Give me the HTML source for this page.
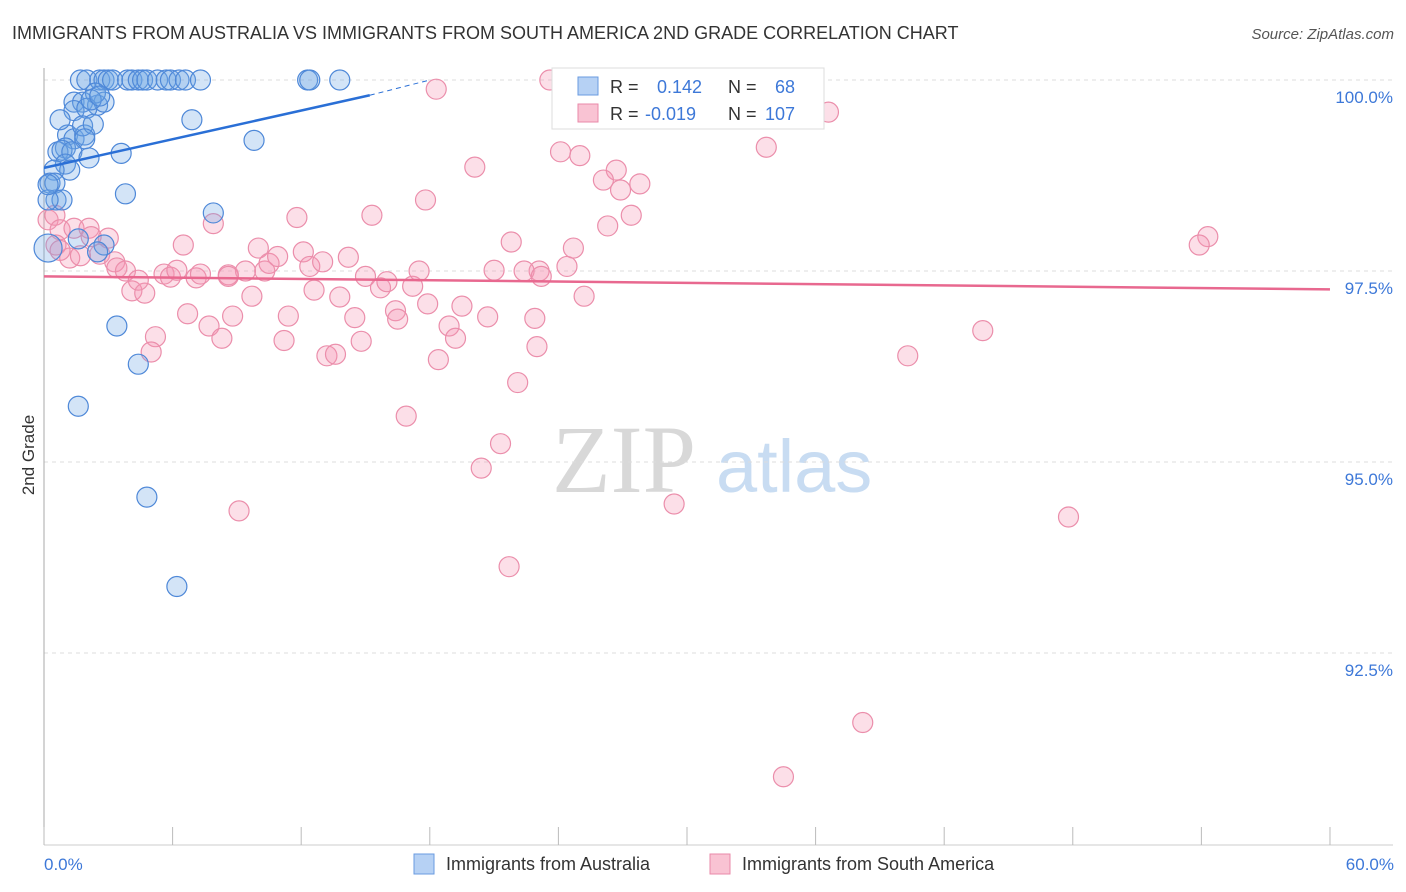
<!DOCTYPE html>
<html><head><meta charset="utf-8"><style>
body{margin:0;background:#fff;font-family:"Liberation Sans",sans-serif}
svg{display:block}
</style></head><body>
<svg id="chart" width="1406" height="892">
<text x="12" y="39" font-size="18" fill="#333">IMMIGRANTS FROM AUSTRALIA VS IMMIGRANTS FROM SOUTH AMERICA 2ND GRADE CORRELATION CHART</text>
<text x="1394" y="39" font-size="15" fill="#555" font-style="italic" text-anchor="end">Source: ZipAtlas.com</text>
<g>
<text x="552" y="492" font-size="96" font-family="Liberation Serif,serif" fill="#d8d8d8">ZIP</text>
<text x="716" y="492" font-size="74" fill="#c8dcf2">atlas</text>
</g>
<g id="grid"></g>
<g id="axes"></g>
<g id="pts"></g>
<g id="lines"></g>
<text transform="translate(34,455) rotate(-90)" font-size="17" fill="#333" text-anchor="middle">2nd Grade</text>
<text x="44" y="870" font-size="17" fill="#3d78d8">0.0%</text>
<text x="1394" y="870" font-size="17" fill="#3d78d8" text-anchor="end">60.0%</text>
<g>
<rect x="552" y="68" width="272" height="61" fill="#fff" stroke="#ddd"/>
<rect x="578" y="77" width="20" height="18" fill="#b6d1f4" stroke="#6a9be0"/>
<rect x="578" y="104" width="20" height="18" fill="#f9c3d3" stroke="#e98aa8"/>
<text x="610" y="93" font-size="18" fill="#333">R = <tspan x="657" fill="#3d78d8">0.142</tspan><tspan x="728">N = </tspan><tspan x="775" fill="#3d78d8">68</tspan></text>
<text x="610" y="120" font-size="18" fill="#333">R = <tspan x="645" fill="#3d78d8">-0.019</tspan><tspan x="728">N = </tspan><tspan x="765" fill="#3d78d8">107</tspan></text>
</g>
<g>
<rect x="414" y="854" width="20" height="20" fill="#b6d1f4" stroke="#6a9be0"/>
<text x="446" y="870" font-size="18" fill="#333">Immigrants from Australia</text>
<rect x="710" y="854" width="20" height="20" fill="#f9c3d3" stroke="#e98aa8"/>
<text x="742" y="870" font-size="18" fill="#333">Immigrants from South America</text>
</g>
</svg>
<script>
const yTicks=[100,97.5,95,92.5];
const yTickLabels=["100.0%","97.5%","95.0%","92.5%"];
const blueX=[1.7,2.0,2.6,2.8,3.0,3.2,3.9,4.1,4.4,4.6,4.8,5.3,5.7,5.9,6.3,6.6,7.3,12.3,12.4,13.8,1.4,1.8,2.5,2.8,2.4,1.4,2.0,1.1,1.4,1.9,1.0,1.8,2.3,1.9,0.65,0.84,1.3,2.1,3.6,6.9,9.8,1.0,1.2,0.47,0.28,0.51,0.56,0.84,0.19,3.8,7.9,1.6,2.8,2.5,0.19,3.4,4.4,1.6,4.8,6.2,0.75,0.19,2.2,2.6];
const blueY=[100.0,100.0,100.0,100.0,100.0,100.0,100.0,100.0,100.0,100.0,100.0,100.0,100.0,100.0,100.0,100.0,100.0,100.0,100.0,100.0,99.71,99.71,99.67,99.71,99.83,99.6,99.63,99.28,99.23,99.28,99.11,99.4,99.42,99.23,99.06,99.08,99.06,98.98,99.04,99.48,99.21,98.9,98.82,98.82,98.65,98.65,98.43,98.43,98.43,98.51,98.26,97.92,97.84,97.75,97.8,96.78,96.28,95.73,94.54,93.37,99.48,98.63,99.74,99.79];
const blueR=[10,10,10,10,10,10,10,10,10,10,10,10,10,10,10,10,10,10,10,10,10,10,10,10,10,10,10,10,10,10,10,10,10,10,10,10,10,10,10,10,10,10,10,10,10,10,10,10,10,10,10,10,10,10,14,10,10,10,10,10,10,10,10,10];
const pinkX=[23.6,35.4,28.6,32.5,36.6,18.3,24.1,25.0,33.7,20.1,26.7,26.1,27.8,26.9,17.8,27.4,26.3,15.3,11.8,7.9,54.3,53.9,6.5,10.0,12.1,21.8,24.7,23.1,0.19,0.51,0.75,1.4,2.1,2.2,3.0,1.2,1.7,2.6,3.3,3.4,3.8,4.1,4.7,4.4,5.6,5.9,6.2,7.1,7.3,8.6,9.4,10.3,10.5,10.9,12.4,13.0,14.2,15.0,15.7,16.0,17.2,17.5,21.0,22.4,23.2,24.4,25.2,12.6,13.8,9.7,8.6,6.7,7.7,8.8,8.3,5.2,5.0,11.4,11.2,14.5,14.8,13.2,13.6,16.4,17.9,16.5,18.9,19.5,20.7,22.9,19.2,23.0,18.4,22.1,16.9,21.3,20.4,29.4,9.1,21.7,40.3,43.8,47.8,38.2,34.5,0.56,0.75];
const pinkY=[100.0,100.0,99.57,99.5,99.58,99.88,99.06,99.01,99.12,98.86,98.82,98.69,98.64,98.56,98.43,98.23,98.09,98.23,98.2,98.12,97.95,97.84,97.84,97.8,97.75,97.88,97.8,97.5,98.17,98.23,98.04,98.06,98.06,97.95,97.93,97.67,97.7,97.72,97.62,97.54,97.5,97.24,97.21,97.38,97.46,97.42,97.51,97.41,97.46,97.45,97.5,97.5,97.6,97.69,97.56,97.62,97.68,97.43,97.28,97.36,97.3,97.5,97.51,97.5,97.43,97.56,97.17,97.25,97.16,97.17,97.43,96.94,96.78,96.91,96.62,96.64,96.44,96.91,96.59,96.89,96.58,96.39,96.41,96.98,97.07,96.87,96.78,97.04,96.9,96.88,96.62,96.51,96.34,96.04,95.6,95.24,94.92,94.45,94.36,93.63,96.39,96.72,94.28,91.59,90.88,97.84,97.77];
const blueLine=[[0,98.85],[15.2,99.8]];
const blueDash=[[15.2,99.8],[18.0,100.0]];
const pinkLine=[[0,97.43],[60,97.26]];
const NS="http://www.w3.org/2000/svg";
const xs=v=>44+v*21.433;
const ys=v=>80+(100-v)*76.4;
function mk(t,a,p){const e=document.createElementNS(NS,t);for(const k in a)e.setAttribute(k,a[k]);p.appendChild(e);return e;}
const grid=document.getElementById('grid'),axes=document.getElementById('axes'),pts=document.getElementById('pts'),lines=document.getElementById('lines');
yTicks.forEach((t,i)=>{
 const g=mk('line',{x1:44,x2:1393,y1:ys(t),y2:ys(t),stroke:'#ddd','stroke-dasharray':'4,4'},grid);
 
 
 const l=mk('text',{x:1393,y:ys(t)+23,'font-size':17,fill:'#3d78d8','text-anchor':'end'},axes);
 l.textContent=yTickLabels[i];
 
 
});
const ax=mk('line',{x1:44,x2:44,y1:68,y2:845,stroke:'#aaa'},axes);


const bx=mk('line',{x1:44,x2:1393,y1:845,y2:845,stroke:'#ccc'},axes);


for(let i=0;i<=10;i++){
 const t=mk('line',{x1:xs(i*6),x2:xs(i*6),y1:827,y2:845,stroke:'#bbb'},axes);
 
 
}
pinkX.forEach((x,i)=>{
 const c=mk('circle',{cx:xs(x),cy:ys(pinkY[i]),r:10,fill:'rgba(244,150,180,0.3)',stroke:'#eb8eab','stroke-width':1.2},pts);
 
 
});
blueX.forEach((x,i)=>{
 const c=mk('circle',{cx:xs(x),cy:ys(blueY[i]),r:blueR[i],fill:'rgba(110,165,230,0.3)',stroke:'#4e88d8','stroke-width':1.2},pts);
 
 
});
const bl=mk('line',{x1:xs(blueLine[0][0]),y1:ys(blueLine[0][1]),x2:xs(blueLine[1][0]),y2:ys(blueLine[1][1]),stroke:'#2a6fd6','stroke-width':2.5},lines);


const bd=mk('line',{x1:xs(blueDash[0][0]),y1:ys(blueDash[0][1]),x2:xs(blueDash[1][0]),y2:ys(blueDash[1][1]),stroke:'#2a6fd6','stroke-width':1,'stroke-dasharray':'5,4'},lines);


const pl=mk('line',{x1:xs(pinkLine[0][0]),y1:ys(pinkLine[0][1]),x2:xs(pinkLine[1][0]),y2:ys(pinkLine[1][1]),stroke:'#e8688f','stroke-width':2.5},lines);


</script>
</body></html>
